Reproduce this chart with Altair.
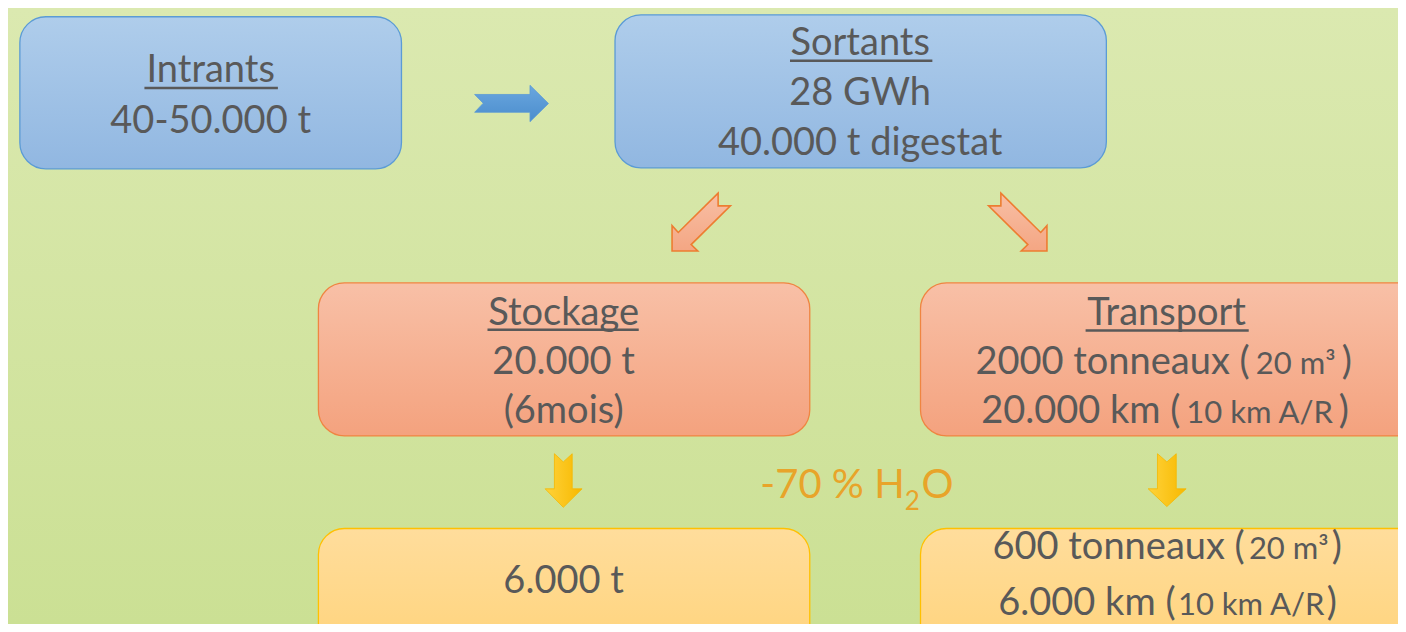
import altair as alt
import pandas as pd

# ---- layout frame (reference pixel space) ----
REF_W, REF_H = 1406, 632
W, H = 1390, 616  # drawable area inside the 8px page margin

# ---- boxes ----
box_group = ["blue", "blue", "salmon", "salmon", "yellow", "yellow"]
box_x1 = [12, 614, 314, 923, 314, 923]
box_x2 = [398, 1111, 811, 1450, 811, 1450]
box_y1 = [9, 7, 282, 282, 534, 534]
box_y2 = [165, 164, 439, 439, 680, 680]

# ---- arrows (polygon vertices) ----
arrow_id = (["blue"] * 8 + ["sal_l"] * 8 + ["sal_r"] * 8 + ["yel_l"] * 8 + ["yel_r"] * 8)
arrow_kind = (["blue"] * 8 + ["salmon"] * 16 + ["yellow"] * 16)
arrow_px = [472, 480.7, 472, 528, 528, 546.7, 528, 528,
            718.3, 678, 671.7, 671.7, 697.7, 691, 730.7, 718.3,
            1004.3, 1044.6, 1050.9, 1050.9, 1024.9, 1031.6, 991.9, 1004.3,
            552.7, 561.7, 570.7, 570.7, 580.7, 561.7, 543.3, 552.7,
            1162.7, 1172.2, 1181.7, 1181.7, 1191.7, 1172.2, 1153.3, 1162.7]
arrow_py = [88.7, 97.7, 107, 107, 116.7, 98, 79.3, 88.7,
            190, 230.3, 223.3, 249.3, 249.3, 242.7, 203, 203,
            190, 230.3, 223.3, 249.3, 249.3, 242.7, 203, 203,
            457.3, 465.7, 457.3, 493.3, 493.3, 512.3, 493.3, 493.3,
            457.3, 465.7, 457.3, 493.3, 493.3, 511.5, 493.3, 493.3]

# ---- text segments ----
TXT = "#595959"
ORG = "#e8a42a"
txt_str = ["Intrants", "40-50.000 t",
           "Sortants", "28 GWh", "40.000 t digestat",
           "Stockage", "20.000 t", "(6mois)",
           "Transport",
           "2000 tonneaux (", "20 m³", ")",
           "20.000 km (", "10 km A/R", ")",
           "6.000 t",
           "600 tonneaux (", "20 m³", ")",
           "6.000 km (", "10 km A/R", ")",
           "-70 % H", "2", "O"]
txt_x = [205, 205,
         862, 862, 862,
         562, 562, 562,
         1172,
         1256, 1302.5, 1349,
         1186, 1266, 1346,
         562,
         1251, 1295.5, 1339,
         1181, 1257.5, 1334,
         907, 907, 924]
txt_y = [76, 128,
         48, 100, 151,
         325, 375, 426,
         325,
         375, 375, 375,
         426, 426, 426,
         600,
         565, 565, 565,
         623, 623, 623,
         503, 515, 503]
txt_size = [38, 38,
            38, 38, 38,
            38, 38, 38,
            38,
            38, 31, 38,
            38, 31, 38,
            38,
            38, 31, 38,
            38, 31, 38,
            40, 26, 40]
txt_align = ["center", "center",
             "center", "center", "center",
             "center", "center", "center",
             "center",
             "right", "center", "left",
             "right", "center", "left",
             "center",
             "right", "center", "left",
             "right", "center", "left",
             "right", "left", "left"]
txt_color = [TXT] * 22 + [ORG] * 3

# ---- underlines of the titles ----
ul_x1 = [138, 791, 485, 1090]
ul_x2 = [273, 935, 638, 1255]
ul_y = [82, 54, 330, 331]

# ---------------------------------------------------------------
xs = alt.Scale(domain=[0, REF_W], nice=False, zero=False)
ys = alt.Scale(domain=[0, REF_H], nice=False, zero=False, reverse=True)


def grad(c0, c1, horizontal=False):
    return alt.Gradient(
        gradient="linear",
        stops=[alt.GradientStop(color=c0, offset=0), alt.GradientStop(color=c1, offset=1)],
        x1=0, y1=0, x2=1 if horizontal else 0, y2=0 if horizontal else 1,
    )


bg_df = pd.DataFrame({"x": [0], "x2": [REF_W], "y": [0], "y2": [REF_H]})
background = alt.Chart(bg_df).mark_rect(fill=grad("#dbe9b0", "#cbe094"), clip=True).encode(
    x=alt.X("x:Q", scale=xs, axis=None), x2="x2:Q",
    y=alt.Y("y:Q", scale=ys, axis=None), y2="y2:Q",
)

boxes_df = pd.DataFrame({"g": box_group, "x": box_x1, "x2": box_x2, "y": box_y1, "y2": box_y2})
box_styles = {
    "blue": (grad("#afcdeb", "#91b7e1"), "#5b9bd5"),
    "salmon": (grad("#f8c0a7", "#f4a27e"), "#ef8541"),
    "yellow": (grad("#ffdd9c", "#ffd277"), "#ffc000"),
}
box_layers = []
for g, (f, s) in box_styles.items():
    box_layers.append(
        alt.Chart(boxes_df).transform_filter(alt.datum.g == g)
        .mark_rect(fill=f, stroke=s, strokeWidth=1.3, cornerRadius=26, clip=True)
        .encode(
            x=alt.X("x:Q", scale=xs, axis=None), x2="x2:Q",
            y=alt.Y("y:Q", scale=ys, axis=None), y2="y2:Q",
        )
    )

arr_df = pd.DataFrame({
    "id": arrow_id, "k": arrow_kind, "x": arrow_px, "y": arrow_py,
    "o": list(range(len(arrow_px))),
})
arrow_styles = {
    "blue": (grad("#6aa7df", "#4b8dcd"), "#5b9bd5", 0.8),
    "salmon": (grad("#f8bfa5", "#f4a683"), "#ed7d31", 1.6),
    "yellow": (grad("#ffd23a", "#f7b900", horizontal=True), "#f5b800", 0.8),
}
arrow_layers = []
for k, (f, s, sw) in arrow_styles.items():
    arrow_layers.append(
        alt.Chart(arr_df).transform_filter(alt.datum.k == k)
        .mark_line(fill=f, stroke=s, strokeWidth=sw, strokeJoin="miter", interpolate="linear-closed")
        .encode(
            x=alt.X("x:Q", scale=xs, axis=None),
            y=alt.Y("y:Q", scale=ys, axis=None),
            order="o:Q", detail="id:N",
        )
    )

ul_df = pd.DataFrame({"x": ul_x1, "x2": ul_x2, "y": ul_y})
underlines = alt.Chart(ul_df).mark_rule(color=TXT, strokeWidth=2.5).encode(
    x=alt.X("x:Q", scale=xs, axis=None), x2="x2:Q",
    y=alt.Y("y:Q", scale=ys, axis=None),
)

txt_df = pd.DataFrame({"t": txt_str, "x": txt_x, "y": txt_y, "s": txt_size,
                       "a": txt_align, "c": txt_color})
text_layers = []
for a in ["left", "center", "right"]:
    text_layers.append(
        alt.Chart(txt_df).transform_filter(alt.datum.a == a)
        .mark_text(align=a, baseline="alphabetic", font="Lato")
        .encode(
            x=alt.X("x:Q", scale=xs, axis=None),
            y=alt.Y("y:Q", scale=ys, axis=None),
            text="t:N",
            size=alt.Size("s:Q", scale=None, legend=None),
            color=alt.Color("c:N", scale=None, legend=None),
        )
    )

chart = alt.layer(background, *box_layers, *arrow_layers, underlines, *text_layers).properties(
    width=W, height=H, padding=0, autosize=alt.AutoSizeParams(type="none"),
    background="#d6e5a5",
).configure_view(stroke=None)

chart.save("out.html", embed_options={"renderer": "svg", "actions": False})
